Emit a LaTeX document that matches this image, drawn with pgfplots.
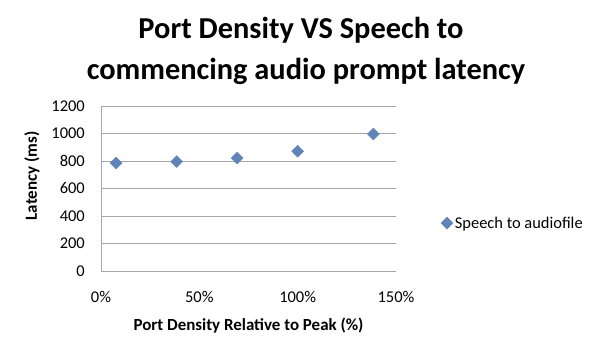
\documentclass[border=0pt]{standalone}
\usepackage{fontspec}
\setmainfont{Carlito}
\usepackage{pgfplots}
\pgfplotsset{compat=1.18}
\definecolor{mk}{RGB}{96,132,186}
\definecolor{gridc}{RGB}{165,165,165}
\definecolor{axc}{RGB}{155,170,195}
\begin{document}
\begin{tikzpicture}[x=1bp,y=1bp]
\path[use as bounding box] (0,0) rectangle (600,358);
\node[anchor=base, font=\fontsize{30.5}{38}\selectfont\bfseries] at (301,320) {Port Density VS Speech to};
\node[anchor=base, font=\fontsize{30.5}{38}\selectfont\bfseries] at (306,279) {commencing audio prompt latency};
\begin{axis}[
  at={(101bp,87bp)}, anchor=south west,
  width=295bp, height=165bp, scale only axis,
  xmin=0, xmax=1.5, ymin=0, ymax=1200,
  xtick={0,0.5,1,1.5}, xticklabels={0\%,50\%,100\%,150\%},
  ytick={0,200,400,600,800,1000,1200},
  /pgf/number format/assume math mode=true,
  /pgf/number format/1000 sep={},
  axis lines*=left,
  x axis line style={gridc, line width=0.8bp, -},
  y axis line style={axc, line width=0.8bp, -},
  ymajorgrids,
  major grid style={gridc, line width=0.8bp},
  major tick length=0pt,
  tick label style={font=\fontsize{16.5}{18}\selectfont, text=black},
  yticklabel style={inner sep=0pt, xshift=-16bp},
  xticklabel style={inner sep=0pt, yshift=-20bp},
  xlabel={\textbf{Port Density Relative to Peak (\%)}},
  xlabel style={at={(axis description cs:0.5,0)}, anchor=center, yshift=-55bp, font=\fontsize{17}{18}\selectfont},
  ylabel={\textbf{Latency (ms)}},
  ylabel style={at={(axis description cs:-0.234,0.576)}, anchor=center, font=\fontsize{17}{18}\selectfont},
  legend style={at={(axis description cs:1.152,0.29)}, anchor=west, draw=none, fill=none,
    inner sep=0pt, font=\fontsize{16.5}{18}\selectfont},
  legend image code/.code={\draw[#1] plot coordinates {(0.12cm,0cm)};},
  clip=false,
]
\addplot[only marks, mark=square*, mark size=4.2bp, mark options={rotate=45, fill=mk, draw=mk}]
  coordinates {(0.077,786) (0.385,796) (0.692,822) (1.0,871) (1.385,996)};
\addlegendentry{Speech to audiofile}
\end{axis}
\end{tikzpicture}
\end{document}
